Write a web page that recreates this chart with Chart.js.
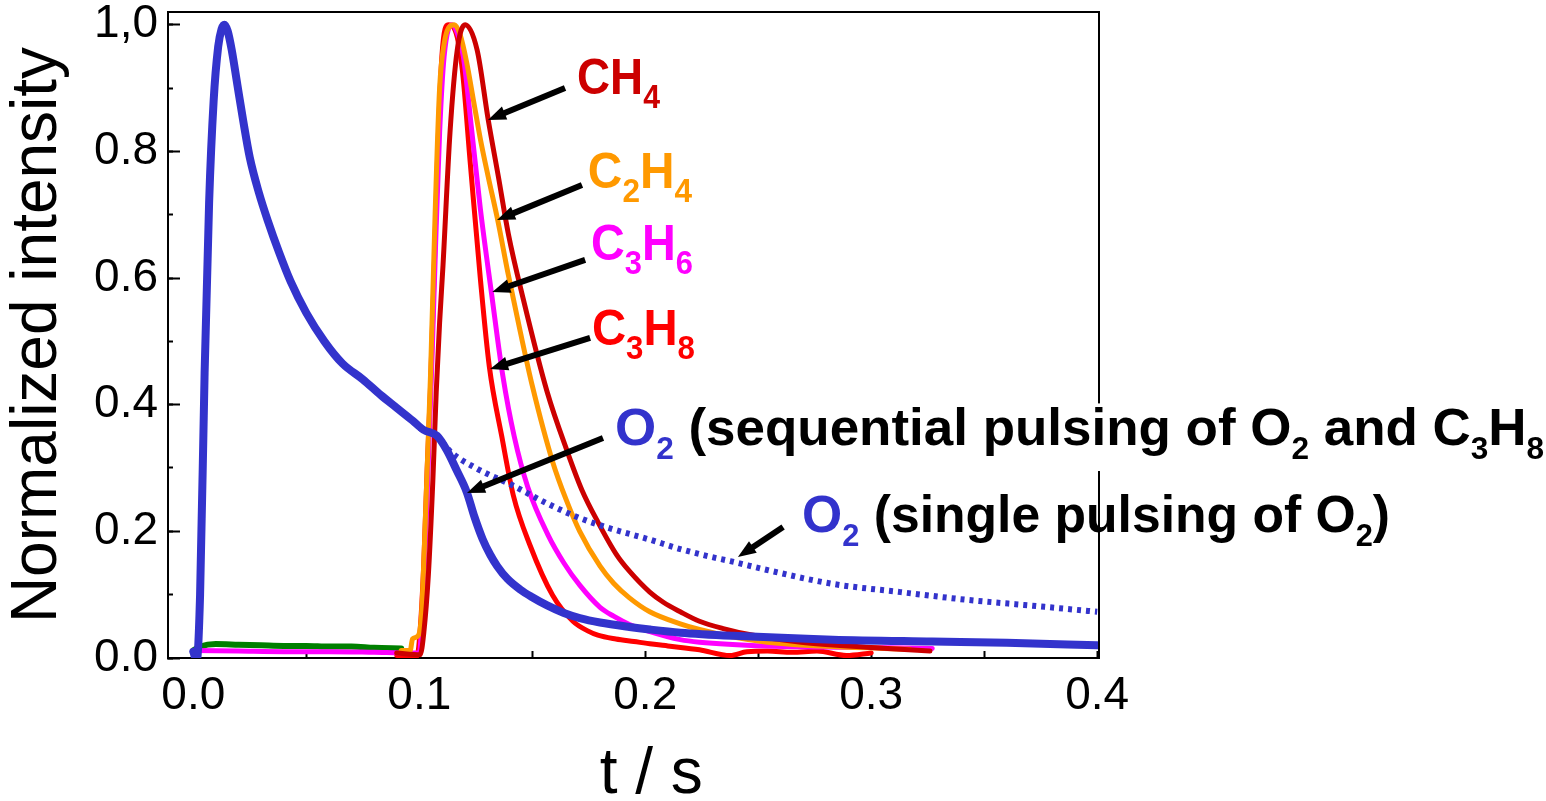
<!DOCTYPE html>
<html lang="en">
<head>
    <meta charset="UTF-8">
    <title>Normalized intensity vs time</title>
    <script src="https://cdn.jsdelivr.net/npm/chart.js"></script>
    <style>
        body {
            margin: 0;
            background: white;
        }
        .chart-container {
            width: 1546px;
            height: 801px;
            position: relative;
        }
    </style>
</head>
<body>
    <div class="chart-container">
        <canvas id="pulseChart"></canvas>
    </div>

    <script>
        // values (t in s, normalized intensity)
        const tO2seq = [0.000, 0.0015, 0.003, 0.005, 0.007, 0.009, 0.011, 0.0125, 0.0138, 0.0152, 0.017, 0.0195, 0.022, 0.025, 0.029, 0.033, 0.038, 0.043, 0.050, 0.058, 0.066, 0.075, 0.083, 0.090, 0.097, 0.102, 0.1078, 0.1122, 0.1166, 0.121, 0.1245, 0.128, 0.1314, 0.1345, 0.139, 0.1447, 0.150, 0.1566, 0.164, 0.171, 0.180, 0.193, 0.202, 0.2155, 0.239, 0.283, 0.327, 0.360, 0.400];
        const yO2seq = [0.010, -0.005, 0.10, 0.45, 0.72, 0.88, 0.965, 0.993, 1.000, 0.99, 0.96, 0.905, 0.85, 0.79, 0.735, 0.69, 0.64, 0.595, 0.545, 0.50, 0.465, 0.44, 0.415, 0.395, 0.375, 0.36, 0.351, 0.328, 0.296, 0.262, 0.222, 0.188, 0.163, 0.145, 0.125, 0.108, 0.096, 0.083, 0.071, 0.063, 0.056, 0.049, 0.045, 0.040, 0.035, 0.029, 0.026, 0.024, 0.020];

        const tO2single = [0.100, 0.1078, 0.114, 0.125, 0.1416, 0.156, 0.171, 0.186, 0.201, 0.2155, 0.2287, 0.2376, 0.255, 0.283, 0.313, 0.342, 0.370, 0.400];
        const yO2single = [0.363, 0.350, 0.325, 0.300, 0.272, 0.245, 0.221, 0.203, 0.188, 0.172, 0.160, 0.153, 0.138, 0.117, 0.104, 0.092, 0.083, 0.073];

        const tCH4 = [0.090, 0.1004, 0.102, 0.104, 0.106, 0.1075, 0.109, 0.1105, 0.1136, 0.1168, 0.1203, 0.1256, 0.1305, 0.135, 0.1394, 0.146, 0.1566, 0.1655, 0.172, 0.179, 0.1875, 0.193, 0.202, 0.208, 0.2155, 0.224, 0.235, 0.246, 0.269, 0.298, 0.326];
        const yCH4 = [0.008, 0.005, 0.04, 0.13, 0.28, 0.42, 0.53, 0.62, 0.83, 0.96, 1.00, 0.96, 0.85, 0.76, 0.67, 0.567, 0.42, 0.326, 0.265, 0.215, 0.162, 0.137, 0.104, 0.088, 0.073, 0.058, 0.046, 0.037, 0.025, 0.017, 0.011];

        const tC2H4 = [0.092, 0.096, 0.097, 0.0995, 0.101, 0.103, 0.105, 0.107, 0.109, 0.111, 0.113, 0.1155, 0.118, 0.121, 0.124, 0.127, 0.1305, 0.1345, 0.1394, 0.1447, 0.150, 0.159, 0.165, 0.171, 0.180, 0.186, 0.193, 0.202, 0.2155, 0.224, 0.239, 0.254, 0.283, 0.317];
        const yC2H4 = [0.012, 0.012, 0.030, 0.035, 0.07, 0.25, 0.45, 0.70, 0.90, 0.97, 0.995, 1.00, 0.985, 0.94, 0.88, 0.82, 0.76, 0.695, 0.605, 0.515, 0.43, 0.31, 0.25, 0.200, 0.145, 0.118, 0.095, 0.073, 0.054, 0.045, 0.033, 0.025, 0.018, 0.014];

        const tC3H6 = [0.000, 0.020, 0.040, 0.060, 0.080, 0.095, 0.100, 0.1012, 0.1027, 0.1042, 0.1057, 0.1072, 0.109, 0.111, 0.1146, 0.117, 0.1195, 0.123, 0.127, 0.132, 0.137, 0.142, 0.148, 0.157, 0.164, 0.171, 0.180, 0.186, 0.193, 0.201, 0.2155, 0.224, 0.254, 0.290, 0.327];
        const yC3H6 = [0.012, 0.011, 0.010, 0.010, 0.009, 0.008, 0.008, 0.06, 0.18, 0.33, 0.48, 0.65, 0.83, 0.95, 1.00, 0.985, 0.95, 0.84, 0.71, 0.575, 0.445, 0.35, 0.27, 0.194, 0.15, 0.115, 0.080, 0.066, 0.053, 0.043, 0.029, 0.025, 0.019, 0.017, 0.015];

        const tC3H8 = [0.090, 0.099, 0.1005, 0.102, 0.1035, 0.1049, 0.1065, 0.108, 0.110, 0.1128, 0.116, 0.119, 0.1226, 0.127, 0.131, 0.1365, 0.1416, 0.149, 0.159, 0.168, 0.175, 0.179, 0.187, 0.195, 0.203, 0.210, 0.224, 0.2376, 0.245, 0.254, 0.265, 0.276, 0.289, 0.300];
        const yC3H8 = [0.004, 0.003, 0.05, 0.15, 0.30, 0.42, 0.60, 0.78, 0.95, 1.00, 0.99, 0.93, 0.78, 0.60, 0.46, 0.35, 0.257, 0.178, 0.099, 0.058, 0.042, 0.036, 0.030, 0.026, 0.022, 0.019, 0.013, 0.004, 0.010, 0.011, 0.009, 0.011, 0.004, 0.008];

        const tBase = [0.000, 0.003, 0.010, 0.020, 0.030, 0.040, 0.050, 0.060, 0.070, 0.080, 0.092];
        const yBase = [0.012, 0.018, 0.022, 0.021, 0.020, 0.019, 0.019, 0.018, 0.018, 0.016, 0.015];

        const xTickLabels = ['0.0', '0.1', '0.2', '0.3', '0.4'];
        const yTickLabels = ['0.0', '0.2', '0.4', '0.6', '0.8', '1,0'];

        const FONT = "'Liberation Sans', Arial, Helvetica, sans-serif";

        function pairs(ts, ys) {
            return ts.map((t, i) => ({x: t, y: ys[i]}));
        }

        function line(label, ts, ys, color, width, dash) {
            return {
                label: label,
                data: pairs(ts, ys),
                showLine: true,
                borderColor: color,
                backgroundColor: color,
                borderWidth: width,
                borderDash: dash || [],
                borderCapStyle: dash ? 'butt' : 'round',
                pointRadius: 0,
                cubicInterpolationMode: 'monotone',
                fill: false
            };
        }

        // annotations: text start/end and baseline in data units, arrows tail -> head
        const notes = [
            {parts: [['CH', '#CC0000'], ['4', '#CC0000', 1]], t0: 0.1698, t1: 0.2065, y: 0.8906, size: 50, sub: 33,
             arrow: [0.1645, 0.900, 0.1304, 0.8495]},
            {parts: [['C', '#FF9900'], ['2', '#FF9900', 1], ['H', '#FF9900'], ['4', '#FF9900', 1]], t0: 0.1746, t1: 0.2207, y: 0.7421, size: 50, sub: 33,
             arrow: [0.1720, 0.7469, 0.1344, 0.6916]},
            {parts: [['C', '#FF00FF'], ['3', '#FF00FF', 1], ['H', '#FF00FF'], ['6', '#FF00FF', 1]], t0: 0.1760, t1: 0.2211, y: 0.6285, size: 50, sub: 33,
             arrow: [0.1734, 0.6285, 0.1323, 0.5779]},
            {parts: [['C', '#FF0000'], ['3', '#FF0000', 1], ['H', '#FF0000'], ['8', '#FF0000', 1]], t0: 0.1764, t1: 0.2220, y: 0.4942, size: 50, sub: 33,
             arrow: [0.1756, 0.5053, 0.1313, 0.4563]},
            {parts: [['O', '#3333CC'], ['2', '#3333CC', 1], [' (single pulsing of O', '#000'], ['2', '#000', 1], [')', '#000']],
             t0: 0.2694, t1: 0.5296, y: 0.1990, size: 52, sub: 31,
             arrow: [0.2610, 0.2069, 0.2410, 0.1595]},
            {parts: [['O', '#3333CC'], ['2', '#3333CC', 1], [' (sequential pulsing of O', '#000'], ['2', '#000', 1], [' and C', '#000'], ['3', '#000', 1], ['H', '#000'], ['8', '#000', 1]],
             t0: 0.1866, t1: 0.5978, y: 0.3363, size: 52, sub: 31, box: true,
             arrow: [0.1813, 0.3474, 0.1211, 0.2605]}
        ];

        function drawRich(ctx, n, xs, ys) {
            const x0 = xs.getPixelForValue(n.t0);
            const x1 = xs.getPixelForValue(n.t1);
            const base = ys.getPixelForValue(n.y);
            let w = 0;
            n.parts.forEach(p => {
                ctx.font = 'bold ' + (p[2] ? n.sub : n.size) + 'px ' + FONT;
                w += ctx.measureText(p[0]).width;
            });
            const s = (x1 - x0) / w;
            if (n.box) {
                ctx.fillStyle = 'white';
                ctx.fillRect(x0 - 5, base - n.size * 0.8, ctx.canvas.width, n.size * 1.3);
            }
            ctx.save();
            ctx.translate(x0, base);
            ctx.scale(s, 1);
            ctx.textBaseline = 'alphabetic';
            ctx.textAlign = 'left';
            let x = 0;
            n.parts.forEach(p => {
                ctx.font = 'bold ' + (p[2] ? n.sub : n.size) + 'px ' + FONT;
                ctx.fillStyle = p[1];
                ctx.fillText(p[0], x, p[2] ? 14 : 0);
                x += ctx.measureText(p[0]).width;
            });
            ctx.restore();
        }

        function drawArrow(ctx, a, xs, ys) {
            const xA = xs.getPixelForValue(a[0]), yA = ys.getPixelForValue(a[1]);
            const xB = xs.getPixelForValue(a[2]), yB = ys.getPixelForValue(a[3]);
            const ang = Math.atan2(yB - yA, xB - xA);
            const head = 18, half = 7;
            const xH = xB - head * Math.cos(ang), yH = yB - head * Math.sin(ang);
            ctx.save();
            ctx.strokeStyle = '#000';
            ctx.fillStyle = '#000';
            ctx.lineWidth = 6;
            ctx.lineCap = 'butt';
            ctx.beginPath();
            ctx.moveTo(xA, yA);
            ctx.lineTo(xH + 2 * Math.cos(ang), yH + 2 * Math.sin(ang));
            ctx.stroke();
            ctx.beginPath();
            ctx.moveTo(xB, yB);
            ctx.lineTo(xH + half * Math.sin(ang), yH - half * Math.cos(ang));
            ctx.lineTo(xH - half * Math.sin(ang), yH + half * Math.cos(ang));
            ctx.closePath();
            ctx.fill();
            ctx.restore();
        }

        const annotate = {
            id: 'annotate',
            afterDraw(chart) {
                const ctx = chart.ctx;
                const area = chart.chartArea;
                const xs = chart.scales.x, ys = chart.scales.y;
                // label drawn under the frame
                drawRich(ctx, notes[4], xs, ys);
                // top and right sides of the frame
                ctx.save();
                ctx.strokeStyle = '#000';
                ctx.lineWidth = 2;
                ctx.beginPath();
                ctx.moveTo(area.left, area.top);
                ctx.lineTo(area.right, area.top);
                ctx.lineTo(area.right, area.bottom);
                ctx.stroke();
                ctx.restore();
                notes.forEach((n, i) => {
                    if (i !== 4) drawRich(ctx, n, xs, ys);
                    drawArrow(ctx, n.arrow, xs, ys);
                });
            }
        };

        function noPad(scale) {
            scale.paddingTop = 0;
            scale.paddingBottom = 0;
            scale.paddingLeft = 0;
            scale.paddingRight = 0;
        }

        const ctx = document.getElementById('pulseChart').getContext('2d');
        new Chart(ctx, {
            type: 'scatter',
            data: {
                datasets: [
                    line('O2 sequential', tO2seq, yO2seq, '#3333CC', 8),
                    line('O2 single', tO2single, yO2single, '#3333CC', 6, [4, 5]),
                    line('CH4', tCH4, yCH4, '#CC0000', 5),
                    line('C2H4', tC2H4, yC2H4, '#FF9900', 5),
                    line('C3H6', tC3H6, yC3H6, '#FF00FF', 5),
                    line('C3H8', tC3H8, yC3H8, '#FF0000', 5),
                    line('baseline', tBase, yBase, '#008000', 6)
                ]
            },
            options: {
                animation: false,
                responsive: true,
                maintainAspectRatio: false,
                layout: {
                    padding: {top: 12, right: 447, bottom: 0, left: 0}
                },
                plugins: {
                    legend: {display: false},
                    tooltip: {enabled: false}
                },
                scales: {
                    x: {
                        type: 'linear',
                        min: -0.0112,
                        max: 0.4008,
                        afterFit(scale) {
                            scale.height = 143;
                            noPad(scale);
                        },
                        border: {display: true, color: '#000', width: 2},
                        grid: {drawOnChartArea: false, drawTicks: true, tickLength: -7, tickColor: '#000', tickWidth: 2},
                        ticks: {
                            stepSize: 0.05,
                            includeBounds: false,
                            autoSkip: false,
                            maxRotation: 0,
                            padding: 18,
                            color: '#000',
                            font: {family: FONT, size: 46},
                            callback: function(value) {
                                const k = Math.round(value * 10);
                                return Math.abs(value * 10 - k) < 1e-6 ? xTickLabels[k] : '';
                            }
                        },
                        title: {
                            display: true,
                            // leading spaces nudge the centred title to the right, as in the figure
                            text: '  t / s',
                            color: '#000',
                            font: {family: FONT, size: 64, lineHeight: 0.8},
                            padding: {top: 0, bottom: 0}
                        }
                    },
                    y: {
                        type: 'linear',
                        position: 'left',
                        weight: 1,
                        min: 0,
                        max: 1.02,
                        afterFit(scale) {
                            scale.width = 168;
                            noPad(scale);
                        },
                        border: {display: true, color: '#000', width: 2},
                        grid: {drawOnChartArea: false, drawTicks: true, tickLength: -12, tickColor: '#000', tickWidth: 2},
                        ticks: {
                            stepSize: 0.2,
                            includeBounds: false,
                            autoSkip: false,
                            padding: 22,
                            color: '#000',
                            font: {family: FONT, size: 46},
                            callback: function(value) {
                                return yTickLabels[Math.round(value * 5)];
                            }
                        },
                        title: {
                            display: true,
                            text: 'Normalized intensity',
                            color: '#000',
                            font: {family: FONT, size: 64, lineHeight: 1},
                            padding: {top: 6, bottom: 0}
                        }
                    },
                    y2: {
                        type: 'linear',
                        position: 'left',
                        weight: 0,
                        min: 0,
                        max: 1.02,
                        afterFit(scale) {
                            scale.width = 0;
                            noPad(scale);
                        },
                        border: {display: false},
                        grid: {drawOnChartArea: false, drawTicks: true, tickLength: -5, tickColor: '#000', tickWidth: 2},
                        ticks: {
                            stepSize: 0.1,
                            includeBounds: false,
                            autoSkip: false,
                            padding: 0,
                            font: {size: 1},
                            callback: () => ''
                        }
                    }
                }
            },
            plugins: [annotate]
        });
    </script>
</body>
</html>
